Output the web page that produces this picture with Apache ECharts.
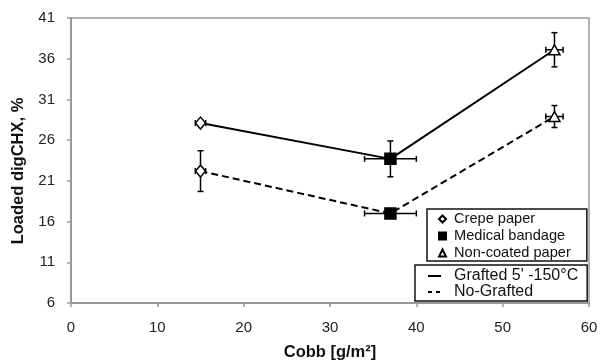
<!DOCTYPE html>
<html>
<head>
<meta charset="utf-8">
<script src="https://cdn.jsdelivr.net/npm/echarts@6/dist/echarts.min.js"></script>
<style>
  html, body { margin: 0; padding: 0; background: #fff; }
  #chart { width: 600px; height: 362px; }
</style>
</head>
<body>
<div id="chart"></div>
<script>
// data
var cobb = [15, 37, 56];
var materials = ['Crepe paper', 'Medical bandage', 'Non-coated paper'];
var grafted = [28.1, 23.7, 37.1];
var graftedXErr = [0.6, 3, 1];
var graftedYErr = [0.3, 2.2, 2.1];
var noGrafted = [22.2, 17.0, 28.9];
var noGraftedXErr = [0.6, 3, 1];
var noGraftedYErr = [2.5, 0.5, 1.35];
var yTicks = [6, 11, 16, 21, 26, 31, 36, 41];

var lineNames = ["Grafted 5' -150°C", 'No-Grafted'];
var lineTypes = ['solid', [7, 4]];
var symbols = ['diamond', 'rect', 'triangle'];
var symbolSizes = [[10, 12], 11, [11, 10]];
var fills = ['#fff', '#000', '#fff'];

var font = 'Liberation Sans, Arial, sans-serif';

function pts(ys) {
  return cobb.map(function (x, i) { return [x, ys[i]]; });
}
function errPts(ys, ex, ey) {
  return cobb.map(function (x, i) { return [x, ys[i], ex[i], ey[i]]; });
}

// x and y error bars with small caps
function renderErr(params, api) {
  var x = api.value(0), y = api.value(1), ex = api.value(2), ey = api.value(3);
  var l = api.coord([x - ex, y]), r = api.coord([x + ex, y]);
  var t = api.coord([x, y + ey]), b = api.coord([x, y - ey]);
  var c = 3;
  var st = { stroke: '#000', lineWidth: 1.5 };
  var seg = function (x1, y1, x2, y2) {
    return { type: 'line', shape: { x1: x1, y1: y1, x2: x2, y2: y2 }, style: st };
  };
  return {
    type: 'group',
    children: [
      seg(l[0], l[1], r[0], r[1]),
      seg(l[0], l[1] - c, l[0], l[1] + c),
      seg(r[0], r[1] - c, r[0], r[1] + c),
      seg(t[0], t[1], b[0], b[1]),
      seg(t[0] - c, t[1], t[0] + c, t[1]),
      seg(b[0] - c, b[1], b[0] + c, b[1])
    ]
  };
}

var series = [
  {
    name: lineNames[0], type: 'line', data: pts(grafted),
    symbol: 'none', lineStyle: { color: '#000', width: 2, type: lineTypes[0] },
    itemStyle: { color: '#000' }, z: 2, animation: false
  },
  {
    name: lineNames[1], type: 'line', data: pts(noGrafted),
    symbol: 'none', lineStyle: { color: '#000', width: 2, type: lineTypes[1] },
    itemStyle: { color: '#000' }, z: 2, animation: false
  },
  {
    type: 'custom', data: errPts(grafted, graftedXErr, graftedYErr),
    renderItem: renderErr, z: 3, animation: false, silent: true
  },
  {
    type: 'custom', data: errPts(noGrafted, noGraftedXErr, noGraftedYErr),
    renderItem: renderErr, z: 3, animation: false, silent: true
  }
];

materials.forEach(function (m, i) {
  series.push({
    name: m, type: 'scatter',
    data: [[cobb[i], grafted[i]], [cobb[i], noGrafted[i]]],
    symbol: symbols[i], symbolSize: symbolSizes[i],
    itemStyle: { color: fills[i], borderColor: '#000', borderWidth: 1.5, opacity: 1 },
    z: 4, animation: false
  });
});

var chart = echarts.init(document.getElementById('chart'));
chart.setOption({
  animation: false,
  backgroundColor: '#fff',
  grid: {
    left: 71, right: 11, top: 18, bottom: 59,
    outerBoundsMode: 'none', containLabel: false,
    show: true, borderColor: '#999', borderWidth: 1.5
  },
  legend: [
    {
      data: materials, orient: 'vertical', left: 427, top: 209,
      itemWidth: 7, itemHeight: 7, itemGap: 1,
      padding: [2, 16, 0, 11],
      borderColor: '#111', borderWidth: 1.5,
      textStyle: { fontFamily: font, fontSize: 14.6, lineHeight: 16, color: '#111', padding: [0, 0, 0, 3] }
    },
    {
      data: lineNames.map(function (n, i) {
        return {
          name: n,
          itemStyle: { opacity: 0 },
          lineStyle: { color: '#000', width: 2, type: i ? [4, 4] : 'solid' }
        };
      }),
      orient: 'vertical', left: 415, top: 265,
      itemWidth: 13, itemHeight: 12, itemGap: 0,
      padding: [3, 9, 1, 12],
      borderColor: '#111', borderWidth: 1.5,
      textStyle: { fontFamily: font, fontSize: 16, lineHeight: 16, color: '#111', padding: [0, 0, 0, 8] }
    }
  ],
  xAxis: {
    type: 'value', min: 0, max: 60, interval: 10,
    name: 'Cobb [g/m²]', nameLocation: 'middle', nameGap: 41,
    nameTextStyle: { fontFamily: font, fontSize: 16.5, fontWeight: 'bold', color: '#111' },
    axisLine: { lineStyle: { color: '#999', width: 2 } },
    axisTick: { show: true, length: 4, lineStyle: { color: '#999', width: 1.5 } },
    axisLabel: { fontFamily: font, fontSize: 15, color: '#222', margin: 17 },
    splitLine: { show: false }
  },
  yAxis: {
    type: 'value', min: yTicks[0], max: yTicks[yTicks.length - 1], interval: 5,
    name: 'Loaded digCHX, %', nameLocation: 'middle', nameGap: 41,
    nameTextStyle: { fontFamily: font, fontSize: 16.5, fontWeight: 'bold', color: '#111', padding: [0, 21, 0, 0] },
    axisLine: { show: true, lineStyle: { color: '#999', width: 2 } },
    axisTick: { show: true, length: 4, lineStyle: { color: '#999', width: 1.5 } },
    axisLabel: { fontFamily: font, fontSize: 15, color: '#222', margin: 16 },
    splitLine: { show: false }
  },
  series: series
});
</script>
</body>
</html>
